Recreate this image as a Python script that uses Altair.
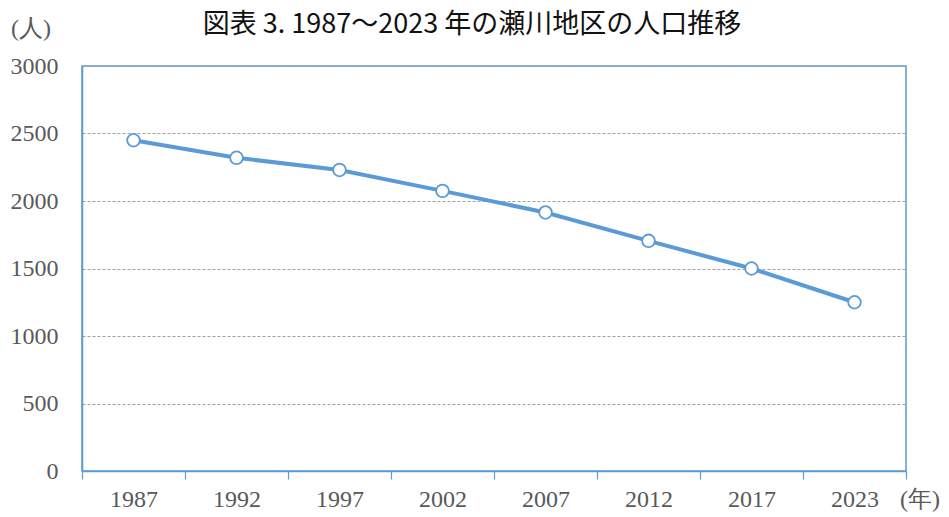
import altair as alt
import pandas as pd

years = ["1987", "1992", "1997", "2002", "2007", "2012", "2017", "2023"]
population = [2450, 2320, 2230, 2075, 1915, 1705, 1500, 1250]
y_ticks = [0, 500, 1000, 1500, 2000, 2500, 3000]

title_text = "図表 3. 1987～2023 年の瀬川地区の人口推移"
y_unit = "(人)"
x_unit = "(年)"

BLUE = "#5b9bd5"
GRAY = "#595959"

df = pd.DataFrame({"year": years, "pop": population})

x_enc = alt.X(
    "year:O",
    sort=years,
    scale=alt.Scale(type="band", paddingInner=0, paddingOuter=0),
    axis=alt.Axis(
        title=None, labelAngle=0, tickBand="extent", tickColor=BLUE, tickSize=8,
        tickWidth=1.2, domainColor=BLUE, domainWidth=1.5, labelFont="Liberation Serif",
        labelFontSize=24, labelColor=GRAY, labelPadding=8, grid=False,
    ),
)
y_enc = alt.Y(
    "pop:Q",
    scale=alt.Scale(domain=[0, 3000], nice=False),
    axis=alt.Axis(
        title=None, values=y_ticks, format="d", ticks=False, labelPadding=24,
        domainColor=BLUE, domainWidth=1.5, labelFont="Liberation Serif",
        labelFontSize=24, labelColor=GRAY,
        grid=True, gridColor="#a0a0a0", gridDash=[3, 2], gridWidth=1,
    ),
)

base = alt.Chart(df).encode(x=x_enc, y=y_enc)
line = base.mark_line(color=BLUE, strokeWidth=4)
pts = base.mark_point(shape="circle", filled=True, fill="white", stroke=BLUE,
                      strokeWidth=1.8, size=160, opacity=1)

one = pd.DataFrame({"t": [title_text], "yu": [y_unit], "xu": [x_unit]})
title = alt.Chart(one).mark_text(font="Noto Sans CJK JP", fontSize=27, color="#111111",
                                 align="center", baseline="middle").encode(
    text="t:N", x=alt.value(390), y=alt.value(-41))
yunit = alt.Chart(one).mark_text(font="Liberation Serif", fontSize=24, color=GRAY,
                                 align="center", baseline="middle").encode(
    text="yu:N", x=alt.value(-51), y=alt.value(-37))
xunit = alt.Chart(one).mark_text(font="Liberation Serif", fontSize=24, color=GRAY,
                                 align="right", baseline="middle").encode(
    text="xu:N", x=alt.value(858), y=alt.value(434))

chart = alt.layer(line, pts, title, yunit, xunit).properties(
    width=824, height=405,
    autosize=alt.AutoSizeParams(type="none"),
    padding={"left": 74, "top": 58, "right": 35, "bottom": 43},
).configure_view(stroke=BLUE, strokeWidth=1.5)

chart.save("out.html", embed_options={"renderer": "svg", "actions": False})
